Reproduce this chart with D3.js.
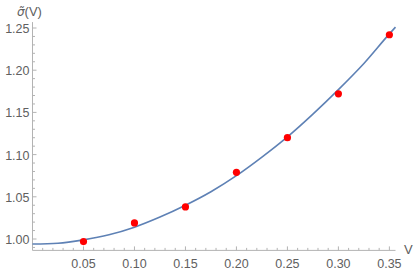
<!DOCTYPE html>
<html>
<head>
<meta charset="utf-8">
<script src="https://cdn.jsdelivr.net/npm/d3@7"></script>
<style>
body { margin: 0; background: #fff; }
text { font-family: "Liberation Sans", Arial, sans-serif; }
</style>
</head>
<body>
<svg width="415" height="273"></svg>
<script>
// measured points
var pointV = [0.05, 0.10, 0.15, 0.20, 0.25, 0.30, 0.35];
var pointSigma = [0.997, 1.019, 1.038, 1.079, 1.120, 1.172, 1.242];

// fitted curve
var curveV = [0, 0.025, 0.05, 0.075, 0.10, 0.125, 0.15, 0.175, 0.20, 0.225, 0.25, 0.275, 0.30, 0.325, 0.35, 0.356];
var curveSigma = [0.994, 0.995, 0.999, 1.005, 1.014, 1.026, 1.040, 1.056, 1.075, 1.097, 1.121, 1.148, 1.177, 1.208, 1.243, 1.251];

var xTicks = [0.05, 0.10, 0.15, 0.20, 0.25, 0.30, 0.35];
var yTicks = [1.00, 1.05, 1.10, 1.15, 1.20, 1.25];

var svg = d3.select("svg");
var axisColor = "#b3b3b3";
var labelColor = "#606060";

var xScale = d3.scaleLinear().domain([0, 0.356]).range([32.5, 395.5]);
var yScale = d3.scaleLinear().domain([1.00, 1.25]).range([239, 28]);
var yMin = 0.9865;
var yMax = 1.257;

var xAxisY = yScale(yMin);
var yAxisX = xScale(0);

// axes lines
svg.append("line")
  .attr("x1", yAxisX).attr("x2", xScale(0.356))
  .attr("y1", xAxisY).attr("y2", xAxisY)
  .attr("stroke", axisColor).attr("stroke-width", 1);
svg.append("line")
  .attr("x1", yAxisX).attr("x2", yAxisX)
  .attr("y1", xAxisY).attr("y2", yScale(yMax))
  .attr("stroke", axisColor).attr("stroke-width", 1);

// minor + major ticks x
var xMinor = d3.range(1, 36).map(function(i) { return i / 100; });
svg.append("g").selectAll("line")
  .data(xMinor)
  .enter()
  .append("line")
  .attr("x1", function(d) { return xScale(d); })
  .attr("x2", function(d) { return xScale(d); })
  .attr("y1", xAxisY)
  .attr("y2", function(d, i) { return (i + 1) % 5 == 0 ? xAxisY - 4 : xAxisY - 2.5; })
  .attr("stroke", axisColor);

svg.append("g").selectAll("text")
  .data(xTicks)
  .enter()
  .append("text")
  .attr("x", function(d) { return xScale(d); })
  .attr("y", xAxisY + 18)
  .attr("text-anchor", "middle")
  .attr("font-size", "12.5px")
  .attr("fill", labelColor)
  .text(function(d) { return d3.format(".2f")(d); });

// minor + major ticks y
var yMinor = d3.range(99, 126).map(function(i) { return i / 100; });
svg.append("g").selectAll("line")
  .data(yMinor)
  .enter()
  .append("line")
  .attr("x1", yAxisX)
  .attr("x2", function(d) { return Math.round(d * 100) % 5 == 0 ? yAxisX + 4 : yAxisX + 2.5; })
  .attr("y1", function(d) { return yScale(d); })
  .attr("y2", function(d) { return yScale(d); })
  .attr("stroke", axisColor);

svg.append("g").selectAll("text")
  .data(yTicks)
  .enter()
  .append("text")
  .attr("x", yAxisX - 3)
  .attr("y", function(d) { return yScale(d) + 5; })
  .attr("text-anchor", "end")
  .attr("font-size", "12.5px")
  .attr("fill", labelColor)
  .text(function(d) { return d3.format(".2f")(d); });

// axis labels
var yLab = svg.append("text")
  .attr("x", 17).attr("y", 16)
  .attr("font-size", "13px")
  .attr("fill", labelColor);
yLab.append("tspan")
  .attr("font-style", "italic")
  .style("font-family", "'DejaVu Sans'")
  .attr("font-size", "12px")
  .text("\u03C3\u0303");
yLab.append("tspan").text("(V)");

svg.append("text")
  .attr("x", 404).attr("y", xAxisY + 4)
  .attr("font-size", "13px")
  .attr("fill", labelColor)
  .text("V");

// curve
var line = d3.line()
  .x(function(d) { return xScale(d[0]); })
  .y(function(d) { return yScale(d[1]); })
  .curve(d3.curveMonotoneX);
svg.append("path")
  .datum(d3.zip(curveV, curveSigma))
  .attr("d", line)
  .attr("fill", "none")
  .attr("stroke", "#5e81b5")
  .attr("stroke-width", 1.6);

// points
svg.append("g").selectAll("circle")
  .data(d3.zip(pointV, pointSigma))
  .enter()
  .append("circle")
  .attr("cx", function(d) { return xScale(d[0]); })
  .attr("cy", function(d) { return yScale(d[1]); })
  .attr("r", 3.6)
  .attr("fill", "#ff0000");
</script>
</body>
</html>
